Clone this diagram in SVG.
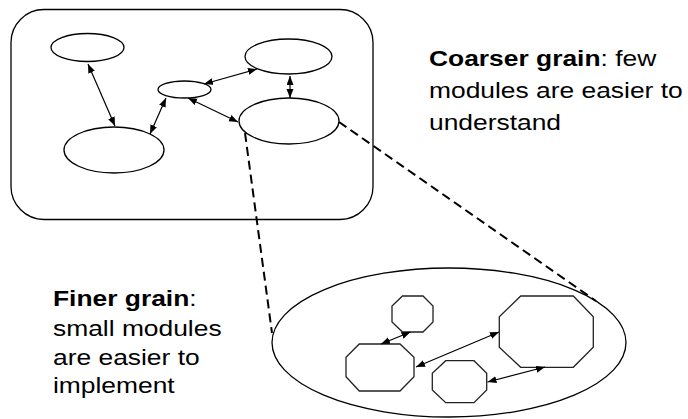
<svg xmlns="http://www.w3.org/2000/svg" width="688" height="419" viewBox="0 0 688 419">
<style>
  .shape{fill:#fff;stroke:#000;stroke-width:1.3}
  .oct{fill:#fff;stroke:#222;stroke-width:1.3}
  .arr{fill:none;stroke:#000;stroke-width:1.2;marker-start:url(#ah);marker-end:url(#ah)}
  .dash{fill:none;stroke:#000;stroke-width:2;stroke-dasharray:9 5}
  .lbl{font-family:"Liberation Sans",Arial,sans-serif;font-size:22px;fill:#000}
  .b{font-weight:bold}
</style>
<defs>
  <marker id="ah" markerUnits="userSpaceOnUse" markerWidth="10" markerHeight="8" refX="9" refY="3.5" orient="auto-start-reverse">
    <path d="M0,0 L9,3.5 L0,7 z" fill="#000"/>
  </marker>
</defs>
<rect id="coarse-box" class="shape" x="11" y="9.5" width="362" height="210" rx="33" ry="33"/>
<g id="n1"><ellipse class="shape" cx="87.5" cy="47.5" rx="36.5" ry="14"/></g>
<g id="n2"><ellipse class="shape" cx="114" cy="150" rx="50" ry="23"/></g>
<g id="n3"><ellipse class="shape" cx="184.5" cy="89.5" rx="26.5" ry="8.5"/></g>
<g id="n4"><ellipse class="shape" cx="288.5" cy="56.5" rx="43.5" ry="17.5"/></g>
<g id="n5"><ellipse class="shape" cx="289" cy="121" rx="50" ry="23"/></g>
<g id="fine-ellipse"><ellipse class="shape" cx="449" cy="342.5" rx="177" ry="74.5"/></g>
<g id="o1"><polygon class="oct" points="402.5,296 423,296 433,306 433,322 423,332 402.5,332 392,322 392,306"/></g>
<g id="o2"><polygon class="oct" points="359.3,344 400,344 414,357.3 414,376.7 400,391 359.3,391 346,376.7 346,357.3"/></g>
<g id="o3"><polygon class="oct" points="445.7,360.7 474,360.7 486.7,373.3 486.7,390 474,402.7 445.7,402.7 432.3,390 432.3,373.3"/></g>
<g id="o4"><polygon class="oct" points="520.7,296 573.3,296 593.3,316.7 593.3,347.3 573.3,367.3 520.7,367.3 499.3,347.3 499.3,316.7"/></g>
<g id="connectors">
  <line class="arr" x1="88" y1="64" x2="115" y2="126"/>
  <line class="arr" x1="150" y1="134" x2="166" y2="98"/>
  <line class="arr" x1="204" y1="84" x2="257" y2="69"/>
  <line class="arr" x1="290" y1="76" x2="290" y2="98"/>
  <line class="arr" x1="188" y1="98" x2="238" y2="122"/>
  <line class="arr" x1="381" y1="344" x2="410.5" y2="332"/>
  <line class="arr" x1="416" y1="367" x2="499" y2="332"/>
  <line class="arr" x1="487.5" y1="382" x2="545" y2="367"/>
  <line class="dash" x1="245" y1="133" x2="272" y2="333"/>
  <line class="dash" x1="339" y1="122" x2="596" y2="301"/>
</g>
<g id="label-coarse" transform="translate(429,0) scale(1.2,1)">
  <text class="lbl" x="0" y="66"><tspan class="b">Coarser grain</tspan>: few</text>
  <text class="lbl" x="0" y="98">modules are easier to</text>
  <text class="lbl" x="0" y="130">understand</text>
</g>
<g id="label-fine" transform="translate(53,0) scale(1.2,1)">
  <text class="lbl" x="0" y="306"><tspan class="b">Finer grain</tspan>:</text>
  <text class="lbl" x="0" y="336">small modules</text>
  <text class="lbl" x="0" y="365">are easier to</text>
  <text class="lbl" x="0" y="393">implement</text>
</g>
</svg>
